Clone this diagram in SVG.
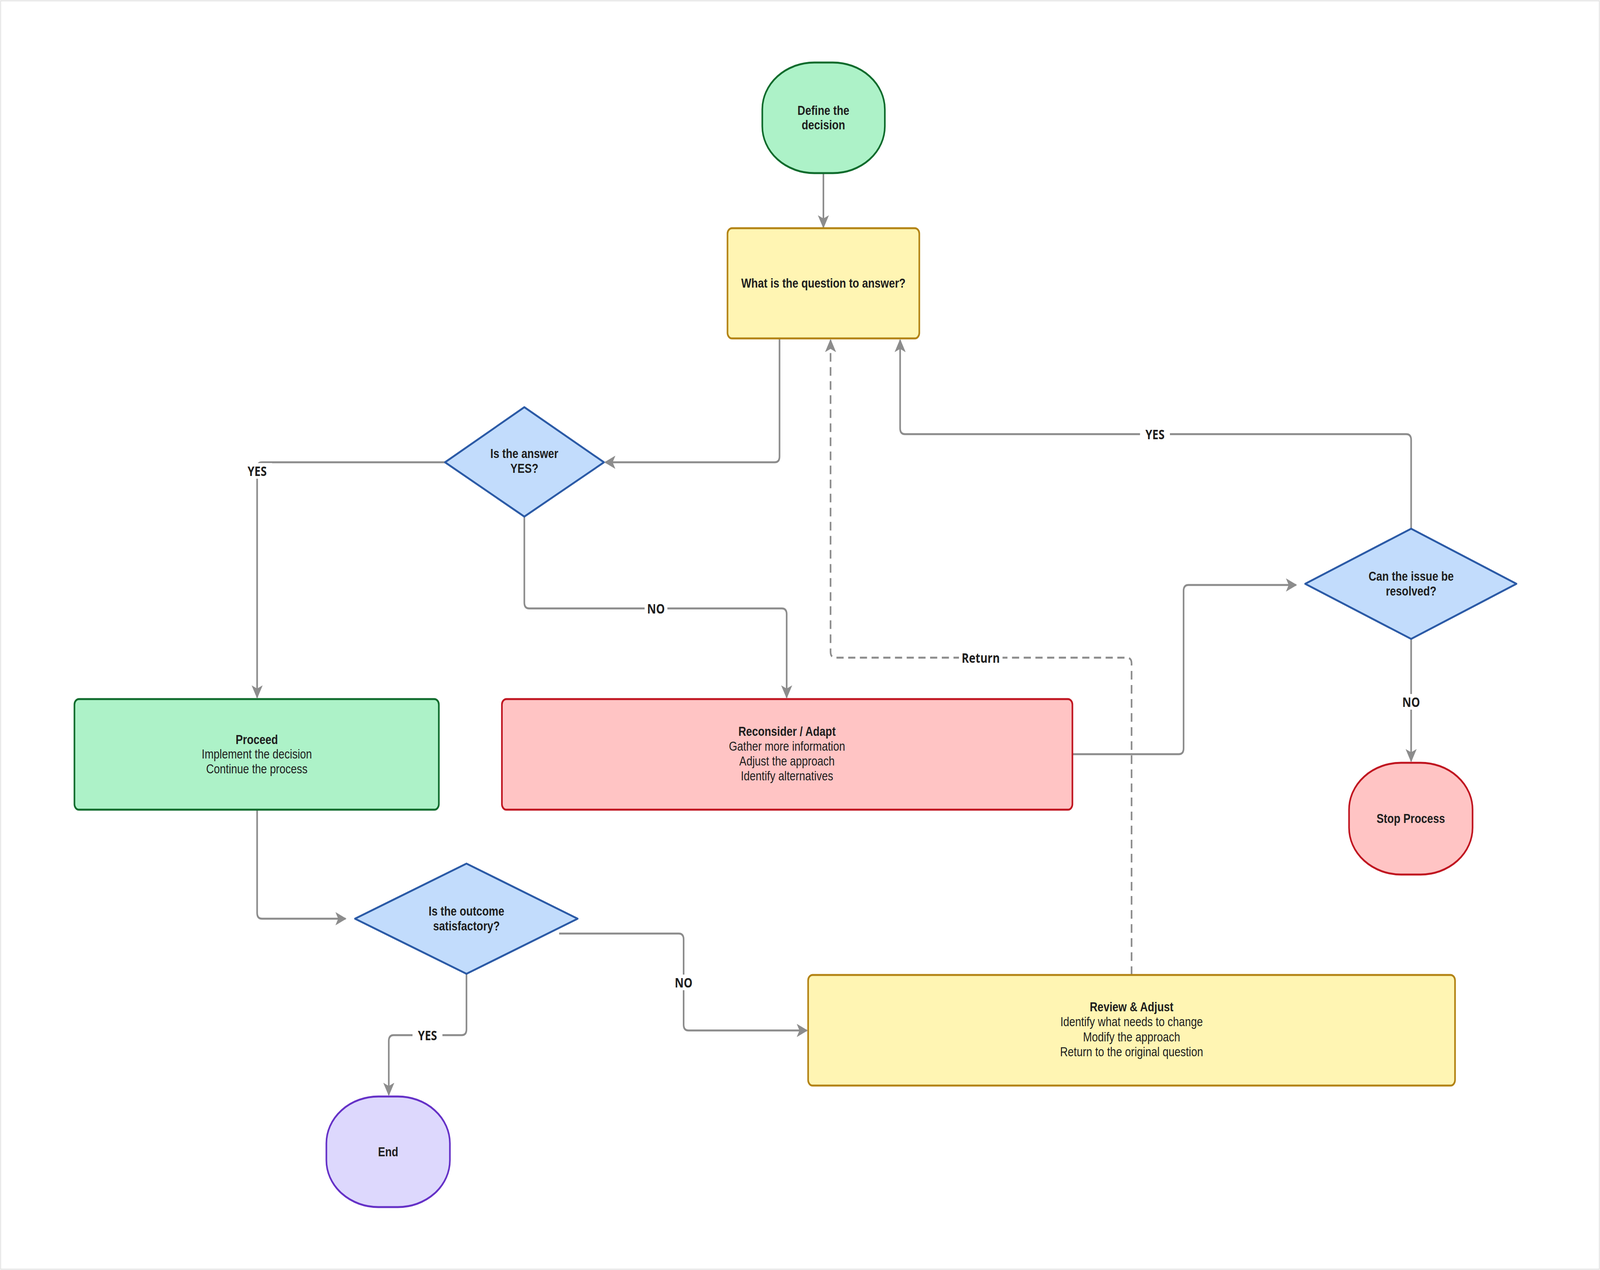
<svg xmlns="http://www.w3.org/2000/svg" width="4922" height="3250" viewBox="0 0 4922 3250" preserveAspectRatio="none" style="display:block;width:100vw;height:100vh">
<style>
text{font-family:"Liberation Sans",Arial,sans-serif;font-size:33px;fill:#1e1e1e;text-anchor:middle;dominant-baseline:central}
.b{font-weight:bold}
.lbl{font-family:"Open Sans","Noto Sans",sans-serif;font-weight:bold;font-size:34px}
.c{fill:none;stroke:#8c8c8c;stroke-width:5;stroke-linejoin:round}
.d{stroke-dasharray:22 14}
.g{fill:#adf2c8;stroke:#0e6b2c;stroke-width:5}
.y{fill:#fff5b3;stroke:#b38314;stroke-width:5}
.bl{fill:#c2dcfc;stroke:#2b5aa6;stroke-width:5;stroke-linejoin:round}
.r{fill:#ffc4c4;stroke:#c01520;stroke-width:5}
.p{fill:#ddd8fd;stroke:#6531c7;stroke-width:5}
</style>
<defs>
<marker id="a" viewBox="0 0 12 12" refX="11" refY="6" markerWidth="34" markerHeight="34" markerUnits="userSpaceOnUse" orient="auto"><path d="M0,0 L12,6 L0,12 L3,6 Z" fill="#8c8c8c"/></marker>
</defs>
<rect x="2" y="2" width="4918" height="3246" fill="#fff" stroke="#e6e6e6" stroke-width="3"/>
<g id="connectors">
<path class="c" d="M2533,443 V582" marker-end="url(#a)"/>
<path class="c" d="M2398,866 V1168 Q2398,1183 2383,1183 H1862" marker-end="url(#a)"/>
<path class="c" d="M1369,1183 H806 Q791,1183 791,1198 V1785" marker-end="url(#a)"/>
<path class="c" d="M1613,1322 V1542 Q1613,1557 1628,1557 H2405 Q2420,1557 2420,1572 V1785" marker-end="url(#a)"/>
<path class="c" d="M3299,1930 H3626 Q3641,1930 3641,1915 V1512 Q3641,1497 3656,1497 H3987" marker-end="url(#a)"/>
<path class="c" d="M4341,1353 V1126 Q4341,1111 4326,1111 H2784 Q2769,1111 2769,1096 V870" marker-end="url(#a)"/>
<path class="c" d="M4341,1635 V1948" marker-end="url(#a)"/>
<path class="c" d="M791,2072 V2336 Q791,2351 806,2351 H1063" marker-end="url(#a)"/>
<path class="c" d="M1720,2389 H2088 Q2103,2389 2103,2404 V2622 Q2103,2637 2118,2637 H2482" marker-end="url(#a)"/>
<path class="c" d="M1435,2492 V2634 Q1435,2649 1420,2649 H1211 Q1196,2649 1196,2664 V2802" marker-end="url(#a)"/>
<path class="c d" d="M3481,2495 V1698 Q3481,1683 3466,1683 H2570 Q2555,1683 2555,1668 V870" marker-end="url(#a)"/>
<g>
<rect x="745" y="1185" width="92" height="40" fill="#fff"/><text class="lbl" x="791" y="1205">YES</text>
<rect x="1983" y="1537" width="70" height="40" fill="#fff"/><text class="lbl" x="2018" y="1557">NO</text>
<rect x="3507" y="1091" width="92" height="40" fill="#fff"/><text class="lbl" x="3553" y="1111">YES</text>
<rect x="4306" y="1776" width="70" height="40" fill="#fff"/><text class="lbl" x="4341" y="1796">NO</text>
<rect x="2068" y="2494" width="70" height="40" fill="#fff"/><text class="lbl" x="2103" y="2514">NO</text>
<rect x="1269" y="2629" width="92" height="40" fill="#fff"/><text class="lbl" x="1315" y="2649">YES</text>
<rect x="2950" y="1663" width="134" height="40" fill="#fff"/><text class="lbl" x="3017" y="1683">Return</text>
</g>
</g>
<g id="define"><rect class="g" x="2345" y="160" width="377" height="283" rx="160" ry="120"/><text class="b" x="2533" y="283">Define the</text><text class="b" x="2533" y="320">decision</text></g>
<g id="question"><rect class="y" x="2238" y="584" width="590" height="282" rx="14"/><text class="b" x="2533" y="725">What is the question to answer?</text></g>
<g id="answer"><path class="bl" d="M1613,1042 L1858,1183 L1613,1322 L1369,1183 Z"/><text class="b" x="1613" y="1161">Is the answer</text><text class="b" x="1613" y="1199">YES?</text></g>
<g id="proceed"><rect class="g" x="229" y="1789" width="1121" height="283" rx="14"/><text class="b" x="790" y="1893">Proceed</text><text x="790" y="1930">Implement the decision</text><text x="790" y="1968">Continue the process</text></g>
<g id="reconsider"><rect class="r" x="1544" y="1789" width="1755" height="283" rx="14"/><text class="b" x="2421" y="1872">Reconsider / Adapt</text><text x="2421" y="1910">Gather more information</text><text x="2421" y="1948">Adjust the approach</text><text x="2421" y="1986">Identify alternatives</text></g>
<g id="resolved"><path class="bl" d="M4341,1353 L4665,1494 L4341,1635 L4015,1494 Z"/><text class="b" x="4341" y="1475">Can the issue be</text><text class="b" x="4341" y="1513">resolved?</text></g>
<g id="stop"><rect class="r" x="4150" y="1952" width="380" height="286" rx="160" ry="120"/><text class="b" x="4340" y="2095">Stop Process</text></g>
<g id="outcome"><path class="bl" d="M1435,2210 L1777,2351 L1435,2492 L1092,2351 Z"/><text class="b" x="1435" y="2332">Is the outcome</text><text class="b" x="1435" y="2370">satisfactory?</text></g>
<g id="review"><rect class="y" x="2486" y="2495" width="1990" height="283" rx="14"/><text class="b" x="3481" y="2577">Review &amp; Adjust</text><text x="3481" y="2615">Identify what needs to change</text><text x="3481" y="2654">Modify the approach</text><text x="3481" y="2692">Return to the original question</text></g>
<g id="end"><rect class="p" x="1004" y="2806" width="380" height="283" rx="160" ry="120"/><text class="b" x="1194" y="2948">End</text></g>
</svg>
